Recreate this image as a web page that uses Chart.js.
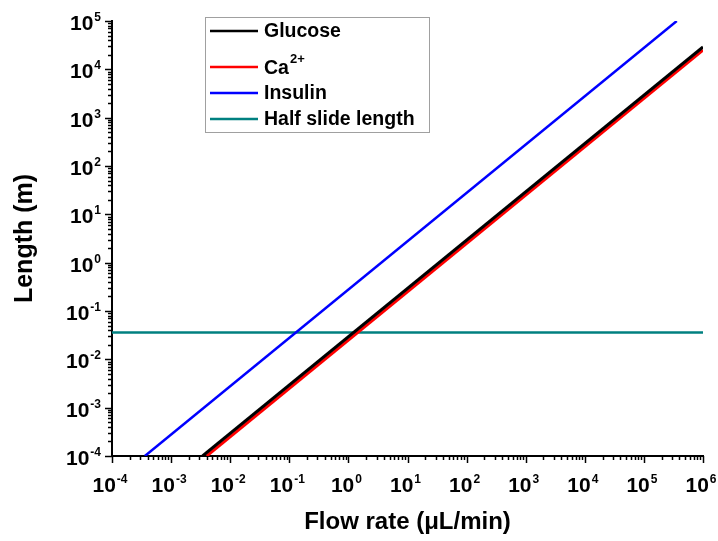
<!DOCTYPE html>
<html>
<head>
<meta charset="utf-8">
<script src="https://cdn.jsdelivr.net/npm/chart.js@4.4.0/dist/chart.umd.min.js"></script>
<style>
  body { margin: 0; background: #fff; }
</style>
</head>
<body>
<canvas id="chart" width="718" height="541"></canvas>
<script>
// --- data ---
const seriesNames = ['Glucose', 'Ca2+', 'Insulin', 'Half slide length'];
const seriesColors = ['#000000', '#ff0000', '#0000ff', '#008080'];
const glucoseX = [0.0034, 1e6];
const glucoseY = [1e-4, 2.9e4];
const calciumX = [0.004, 1e6];
const calciumY = [1e-4, 2.5e4];
const insulinX = [3.6e-4, 3.6e5];
const insulinY = [1e-4, 1e5];
const halfSlideX = [1e-4, 1e6];
const halfSlideY = [0.036, 0.036];
const xExponents = [-4, -3, -2, -1, 0, 1, 2, 3, 4, 5, 6];
const yExponents = [-4, -3, -2, -1, 0, 1, 2, 3, 4, 5];

const FONT = "'Liberation Sans', Arial, sans-serif";
const toPoints = (xs, ys) => xs.map((x, i) => ({ x: x, y: ys[i] }));

// draws "10" with a raised exponent, y is the baseline of "10"
function drawPower(ctx, exp, x, y, align) {
    ctx.font = 'bold 21px ' + FONT;
    const wBase = ctx.measureText('10').width;
    ctx.font = 'bold 12px ' + FONT;
    const wExp = ctx.measureText(String(exp)).width;
    const total = wBase + 1 + wExp;
    const left = align === 'right' ? x - total : x - total / 2;
    ctx.textAlign = 'left';
    ctx.textBaseline = 'alphabetic';
    ctx.font = 'bold 21px ' + FONT;
    ctx.fillText('10', left, y);
    ctx.font = 'bold 12px ' + FONT;
    ctx.fillText(String(exp), left + wBase + 1, y - 9);
}

// outward ticks (major + minor) and power-of-ten labels
const axisDecor = {
    id: 'axisDecor',
    afterDraw(chart) {
        const ctx = chart.ctx;
        const xs = chart.scales.x, ys = chart.scales.y;
        const area = chart.chartArea;
        ctx.save();
        ctx.strokeStyle = '#000';
        ctx.fillStyle = '#000';
        ctx.lineWidth = 1.5;
        xExponents.forEach((e, i) => {
            for (let m = 1; m <= 9; m++) {
                if (m > 1 && i === xExponents.length - 1) break;
                const px = Math.round(xs.getPixelForValue(m * Math.pow(10, e))) + 0.5;
                const len = m === 1 ? 7 : 4;
                ctx.beginPath();
                ctx.moveTo(px, area.bottom);
                ctx.lineTo(px, area.bottom + len);
                ctx.stroke();
            }
            drawPower(ctx, e, xs.getPixelForValue(Math.pow(10, e)) - 2, area.bottom + 36, 'center');
        });
        yExponents.forEach((e, i) => {
            for (let m = 1; m <= 9; m++) {
                if (m > 1 && i === yExponents.length - 1) break;
                const py = Math.round(ys.getPixelForValue(m * Math.pow(10, e))) + 0.5;
                const len = m === 1 ? 7 : 4;
                ctx.beginPath();
                ctx.moveTo(area.left, py);
                ctx.lineTo(area.left - len, py);
                ctx.stroke();
            }
            drawPower(ctx, e, area.left - 11, ys.getPixelForValue(Math.pow(10, e)) + 9, 'right');
        });
        ctx.restore();
    }
};

// legend box inside the plot, top left
const insideLegend = {
    id: 'insideLegend',
    afterDraw(chart) {
        const ctx = chart.ctx;
        const rowsY = [31, 67, 93, 119];
        ctx.save();
        ctx.strokeStyle = '#a0a0a0';
        ctx.lineWidth = 1;
        ctx.strokeRect(205.5, 17.5, 224, 115);
        chart.data.datasets.forEach((ds, i) => {
            const y = rowsY[i];
            ctx.strokeStyle = ds.borderColor;
            ctx.lineWidth = 2.5;
            ctx.beginPath();
            ctx.moveTo(210, y);
            ctx.lineTo(258, y);
            ctx.stroke();
            ctx.fillStyle = '#000';
            ctx.textAlign = 'left';
            ctx.textBaseline = 'middle';
            ctx.font = 'bold 19.5px ' + FONT;
            if (ds.label === 'Ca2+') {
                ctx.fillText('Ca', 264, y + 2);
                const w = ctx.measureText('Ca').width;
                ctx.font = 'bold 13px ' + FONT;
                ctx.fillText('2+', 264 + w + 1, y - 8);
            } else {
                ctx.fillText(ds.label, 264, y + 1);
            }
        });
        ctx.restore();
    }
};

const makeSet = (i, xs, ys, width) => ({
    label: seriesNames[i],
    data: toPoints(xs, ys),
    borderColor: seriesColors[i],
    backgroundColor: seriesColors[i],
    borderWidth: width,
    showLine: true,
    pointRadius: 0,
    fill: false
});

new Chart(document.getElementById('chart').getContext('2d'), {
    type: 'scatter',
    data: {
        datasets: [
            makeSet(0, glucoseX, glucoseY, 3),
            makeSet(1, calciumX, calciumY, 3),
            makeSet(2, insulinX, insulinY, 2.5),
            makeSet(3, halfSlideX, halfSlideY, 2.5)
        ]
    },
    options: {
        responsive: false,
        animation: false,
        layout: { padding: { left: 0, top: 21, right: 15, bottom: 0 } },
        plugins: {
            legend: { display: false },
            tooltip: { enabled: false }
        },
        scales: {
            x: {
                type: 'logarithmic',
                min: 1e-4,
                max: 1e6,
                grid: { display: false },
                border: { display: true, color: '#000', width: 2 },
                ticks: { display: false },
                title: {
                    display: true,
                    text: 'Flow rate (\u03bcL/min)',
                    color: '#000',
                    font: { family: FONT, size: 24, weight: 'bold' },
                    padding: { top: 0, bottom: 4 }
                },
                afterFit: (scale) => { scale.height = 85; }
            },
            y: {
                type: 'logarithmic',
                min: 1e-4,
                max: 1e5,
                grid: { display: false },
                border: { display: true, color: '#000', width: 2 },
                ticks: { display: false },
                title: {
                    display: true,
                    text: 'Length (m)',
                    color: '#000',
                    font: { family: FONT, size: 25, weight: 'bold' },
                    padding: { top: 10, bottom: 0 }
                },
                afterFit: (scale) => { scale.width = 112; }
            }
        }
    },
    plugins: [axisDecor, insideLegend]
});
</script>
</body>
</html>
